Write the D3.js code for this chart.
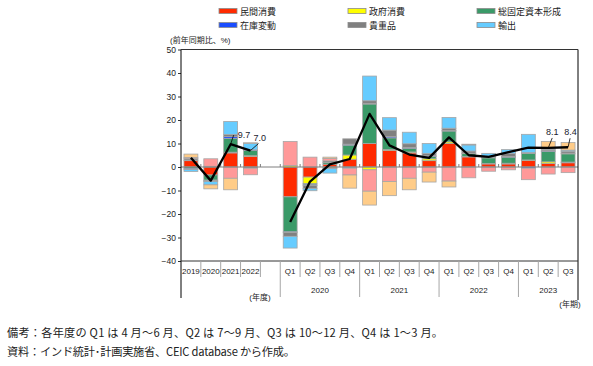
<!DOCTYPE html>
<html lang="ja">
<head>
<meta charset="utf-8">
<script src="https://cdn.jsdelivr.net/npm/d3@7"></script>
<style>
  body { margin: 0; background: #fff; }
  svg { display: block; font-family: "Liberation Sans", "Noto Sans CJK JP", sans-serif; }
</style>
</head>
<body>
<svg id="chart" width="593" height="366"></svg>
<script>
(function() {

// periods: 4 fiscal years, then quarters 2020Q1..2023Q3
const periods = ['2019', '2020', '2021', '2022',
  '2020Q1', '2020Q2', '2020Q3', '2020Q4',
  '2021Q1', '2021Q2', '2021Q3', '2021Q4',
  '2022Q1', '2022Q2', '2022Q3', '2022Q4',
  '2023Q1', '2023Q2', '2023Q3'];
const periodLabels = ['2019', '2020', '2021', '2022',
  'Q1', 'Q2', 'Q3', 'Q4', 'Q1', 'Q2', 'Q3', 'Q4',
  'Q1', 'Q2', 'Q3', 'Q4', 'Q1', 'Q2', 'Q3'];
const yearGroups = ['2020', '2021', '2022', '2023'];
const yTicks = [-40, -30, -20, -10, 0, 10, 20, 30, 40, 50];

// contributions (percentage points)
const privateCons = [2.7, -3.4, 6.0, 4.5, -12.7, -4.3, 1.2, 3.3, 10.0, 7.1, 6.0, 2.7, 10.0, 4.3, 1.3, 1.3, 2.8, 1.5, 1.8];
const govCons     = [0.3, 0.3, 0.3, 0.3, 0.6, -2.8, -0.4, 1.8, -1.2, 0.3, 0.4, 0.8, 0.7, 0.2, 0.2, 0.3, 0.2, 0.7, 0.3];
const gfcf        = [-0.6, -2.2, 5.8, 2.2, -14.9, -0.5, 0.7, 4.2, 16.8, 5.0, 1.5, 1.0, 4.6, 1.2, 2.4, 2.6, 2.8, 4.5, 3.5];
const inventory   = [-0.5, -0.3, 0.8, 0.3, -0.3, -0.3, -0.2, 0.4, 0.3, 0.5, 0.4, 0.3, 0.2, 0.2, 0.1, 0.3, -0.5, 0.2, 0.3];
const valuables   = [0.6, -0.3, 0.9, -0.5, -1.6, -1.2, 0.7, 2.3, 1.1, 2.8, 1.6, 1.0, 1.0, 0.9, 0.6, 1.2, 0.3, 0.7, 0.8];
const exportsC    = [-0.8, -1.4, 5.6, 2.8, -5.0, -1.0, -2.0, -0.5, 10.5, 5.3, 4.9, 4.2, 4.6, 2.6, 1.2, 1.7, 7.8, 0.5, 0.5];
const importsC    = [0.5, 3.2, -4.8, -2.8, 10.3, 4.2, 1.0, -2.9, -9.1, -6.2, -4.8, -2.2, -6.0, -4.6, -1.8, -1.2, -4.9, -3.0, -2.4];
const discrepancy = [1.4, -1.7, -4.9, 0.2, 0, 0, 0.6, -5.6, -5.9, -6.0, -4.9, -4.2, -2.5, 0.3, 0, 0, 0, 2.8, 3.2];
// real GDP growth (y/y, %)
const gdp = [3.9, -5.8, 9.7, 7.0, -23.4, -6.2, 1.1, 3.4, 22.6, 9.2, 5.3, 3.9, 12.6, 5.0, 4.3, 6.3, 8.2, 8.1, 8.4];

const seriesNames = ['民間消費', '政府消費', '総固定資本形成', '在庫変動', '貴重品', '輸出', '輸入', '統計誤差'];
const seriesValues = [privateCons, govCons, gfcf, inventory, valuables, exportsC, importsC, discrepancy];
const colors = ['#ff2a00', '#ffff00', '#3a9a68', '#1a4dff', '#808080', '#66ccff', '#ff9999', '#ffcc88'];
const legendCount = 6;

const labelled = ['2021', '2022', '2023Q2', '2023Q3'];

const svg = d3.select('#chart');

const left = 181, right = 578, top = 49.5, bottom = 261;

const slots = periods.slice(0, 4).concat(['gap'], periods.slice(4));
const x = d3.scaleBand()
  .domain(slots)
  .range([left, right])
  .paddingInner(0.3)
  .paddingOuter(0.15);
const step = x.step();
const edge = i => left + i * step;
const cx = p => x(p) + x.bandwidth() / 2;

const y = d3.scaleLinear()
  .domain([-40, 50])
  .range([bottom, top]);

// table for the stack
const table = periods.map((p, i) => {
  const row = {period: p};
  seriesNames.forEach((s, k) => { row[s] = seriesValues[k][i]; });
  return row;
});

const stack = d3.stack()
  .keys(seriesNames)
  .offset(d3.stackOffsetDiverging);

const layers = svg.append('g')
  .selectAll('g')
  .data(stack(table))
  .enter().append('g')
    .attr('fill', (d, i) => colors[i]);

layers.selectAll('rect')
  .data(d => d.filter(v => v[1] !== v[0]))
  .enter().append('rect')
    .attr('x', d => x(d.data.period))
    .attr('width', x.bandwidth())
    .attr('y', d => y(Math.max(d[0], d[1])))
    .attr('height', d => Math.abs(y(d[0]) - y(d[1])))
    .attr('stroke', '#a6a6a6')
    .attr('stroke-width', 0.8);

// zero line with small ticks at slot edges
svg.append('line')
  .attr('x1', left).attr('x2', right)
  .attr('y1', y(0)).attr('y2', y(0))
  .attr('stroke', '#7f7f7f')
  .attr('stroke-width', 1);

svg.append('g')
  .selectAll('line')
  .data(d3.range(1, slots.length))
  .enter().append('line')
    .attr('x1', i => edge(i)).attr('x2', i => edge(i))
    .attr('y1', y(0) - 3).attr('y2', y(0))
    .attr('stroke', '#7f7f7f');

// GDP line: annual and quarterly drawn separately
const line = d3.line()
  .x(d => cx(d.period))
  .y(d => y(d.v));

const pts = periods.map((p, i) => ({period: p, v: gdp[i]}));

svg.append('path')
  .datum(pts.slice(0, 4))
  .attr('d', line)
  .attr('fill', 'none')
  .attr('stroke', '#000')
  .attr('stroke-width', 2.3)
  .attr('stroke-linejoin', 'round');

svg.append('path')
  .datum(pts.slice(4))
  .attr('d', line)
  .attr('fill', 'none')
  .attr('stroke', '#000')
  .attr('stroke-width', 2.3)
  .attr('stroke-linejoin', 'round');

// value labels with short leaders: [leader dx, leader dy, text dx, text dy, anchor]
const labelOffset = {
  '2021': [3, -9, 4, -4, 'start'],
  '2022': [8, -7, -5, -10, 'start'],
  '2023Q2': [4, -10, 0, -10, 'middle'],
  '2023Q3': [2, -9, 0.5, -10, 'middle']
};

labelled.forEach(p => {
  const i = periods.indexOf(p);
  const o = labelOffset[p];
  const px = cx(p), py = y(gdp[i]);
  svg.append('line')
    .attr('x1', px).attr('y1', py)
    .attr('x2', px + o[0]).attr('y2', py + o[1])
    .attr('stroke', '#000')
    .attr('stroke-width', 0.8);
  svg.append('text')
    .attr('x', px + o[0] + o[2])
    .attr('y', py + o[1] + o[3] + 7)
    .attr('text-anchor', o[4])
    .attr('font-size', 9)
    .attr('fill', '#1a1a2e')
    .text(d3.format('.1f')(gdp[i]));
});

// y axis
const yAxis = svg.append('g')
  .attr('transform', `translate(${left},0)`)
  .call(d3.axisLeft(y).tickValues(yTicks).tickSize(3).tickPadding(2));
yAxis.select('.domain').remove();
yAxis.selectAll('text').attr('font-size', 8.5).attr('fill', '#222').attr('font-family', null);
yAxis.selectAll('line').attr('stroke', '#333');

// frame
svg.append('line')
  .attr('x1', left).attr('x2', left)
  .attr('y1', top).attr('y2', 298)
  .attr('stroke', '#000');
svg.append('line')
  .attr('x1', right).attr('x2', right)
  .attr('y1', top).attr('y2', 300)
  .attr('stroke', '#000');
svg.append('line')
  .attr('x1', left).attr('x2', right)
  .attr('y1', top).attr('y2', top)
  .attr('stroke', '#333');
svg.append('line')
  .attr('x1', left).attr('x2', right)
  .attr('y1', bottom).attr('y2', bottom)
  .attr('stroke', '#333');

// x axis category separators
const longEdges = [5, 9, 13, 17];
svg.append('g')
  .selectAll('line')
  .data(d3.range(1, slots.length))
  .enter().append('line')
    .attr('x1', i => edge(i)).attr('x2', i => edge(i))
    .attr('y1', bottom)
    .attr('y2', i => longEdges.includes(i) ? 297 : 277)
    .attr('stroke', '#a6a6a6');

svg.append('g')
  .selectAll('text')
  .data(periods)
  .enter().append('text')
    .attr('x', p => cx(p))
    .attr('y', 274)
    .attr('text-anchor', 'middle')
    .attr('font-size', 8)
    .attr('fill', '#222')
    .text((p, i) => periodLabels[i]);

svg.append('g')
  .selectAll('text')
  .data(yearGroups)
  .enter().append('text')
    .attr('x', (g, k) => (edge(longEdges[k]) + (k < 3 ? edge(longEdges[k + 1]) : right)) / 2)
    .attr('y', 293)
    .attr('text-anchor', 'middle')
    .attr('font-size', 8)
    .attr('fill', '#222')
    .text(g => g);

svg.append('text')
  .attr('x', 260).attr('y', 300)
  .attr('text-anchor', 'middle')
  .attr('font-size', 8)
  .attr('fill', '#222')
  .text('(年度)');

svg.append('text')
  .attr('x', 570).attr('y', 307)
  .attr('text-anchor', 'middle')
  .attr('font-size', 8)
  .attr('fill', '#222')
  .text('(年期)');

svg.append('text')
  .attr('x', 170).attr('y', 42.5)
  .attr('font-size', 8)
  .attr('fill', '#222')
  .text('(前年同期比、%)');

// legend
const legend = svg.append('g')
  .selectAll('g')
  .data(seriesNames.slice(0, legendCount))
  .enter().append('g')
    .attr('transform', (d, i) => `translate(${219 + (i % 3) * 129},${8.5 + Math.floor(i / 3) * 14})`);

legend.append('rect')
  .attr('width', 18)
  .attr('height', 5)
  .attr('fill', (d, i) => colors[i])
  .attr('stroke', '#8c8c8c')
  .attr('stroke-width', 0.8);

legend.append('text')
  .attr('x', 21)
  .attr('y', 6)
  .attr('font-size', 9)
  .attr('fill', '#222')
  .text(d => d);

// notes
const notes = svg.append('g')
  .attr('font-family', '"Noto Sans CJK JP", sans-serif')
  .attr('font-size', 11.2)
  .attr('fill', '#222');
notes.append('text').attr('x', 7).attr('y', 337)
  .attr('textLength', 436).attr('lengthAdjust', 'spacing')
  .text('備考：各年度の Q1 は 4 月～6 月、Q2 は 7～9 月、Q3 は 10～12 月、Q4 は 1～3 月。');
notes.append('text').attr('x', 7).attr('y', 356)
  .attr('textLength', 288).attr('lengthAdjust', 'spacing')
  .text('資料：インド統計･計画実施省、CEIC database から作成。');

})();
</script>
</body>
</html>
